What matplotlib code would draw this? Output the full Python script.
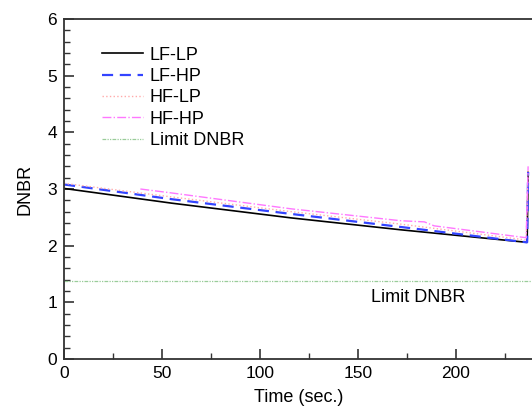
import matplotlib as mpl
mpl.use('Agg')
import matplotlib.pyplot as plt
from matplotlib.ticker import MultipleLocator

plt.rcParams['font.family'] = ['Liberation Sans', 'DejaVu Sans']

# values
t_lflp = [0, 55, 116, 172, 236, 236.5, 237]
v_lflp = [3.01, 2.75, 2.49, 2.28, 2.06, 2.06, 3.3]

t_lfhp = [0, 55, 116, 172, 236, 236.5, 237]
v_lfhp = [3.08, 2.82, 2.56, 2.33, 2.06, 2.06, 3.3]

t_hflp = [0, 55, 116, 172, 236, 237]
v_hflp = [3.10, 2.86, 2.60, 2.38, 2.10, 3.35]

t_hfhp = [39, 55, 116, 172, 184, 189, 236, 237]
v_hfhp = [3.00, 2.93, 2.65, 2.44, 2.42, 2.35, 2.14, 3.4]

t_limit = [0, 240]
v_limit = [1.38, 1.38]

fig = plt.figure(figsize=(5.32, 4.11), dpi=100)
ax = fig.add_axes([64/532, 52/411, 470/532, 340/411])

ax.plot(t_lflp, v_lflp, color='black', lw=1.2, label='LF-LP')
ax.plot(t_lfhp, v_lfhp, color='#3344ff', lw=1.6, ls=(0, (5, 3)), label='LF-HP')
ax.plot(t_hflp, v_hflp, color='#ffaaaa', lw=1.0, ls=':', label='HF-LP')
ax.plot(t_hfhp, v_hfhp, color='#ff77ff', lw=1.0, ls='-.', label='HF-HP')
ax.plot(t_limit, v_limit, color='#99cc99', lw=0.9, ls=(0, (3, 1, 1, 1, 1, 1)), label='Limit DNBR')

ax.text(157, 1.09, 'Limit DNBR', fontsize=13, va='center')

ax.set_xlim(0, 240)
ax.set_ylim(0, 6)
ax.xaxis.set_major_locator(MultipleLocator(50))
ax.xaxis.set_minor_locator(MultipleLocator(25))
ax.yaxis.set_major_locator(MultipleLocator(1))
ax.yaxis.set_minor_locator(MultipleLocator(0.2))
ax.tick_params(which='both', direction='in', labelsize=12.5, color='#333333')
ax.tick_params(which='major', length=7, width=1.2, pad=5)
ax.tick_params(which='minor', length=4, width=1.0)
ax.tick_params(top=False, right=False)
for s in ax.spines.values():
    s.set_color('#333333')
    s.set_linewidth(1.3)

ax.set_xlabel('Time (sec.)', fontsize=13, labelpad=6)
ax.set_ylabel('DNBR', fontsize=13, labelpad=10)

ax.legend(loc='upper left', bbox_to_anchor=(0.065, 0.94), frameon=False, fontsize=13,
          handlelength=2.3, handletextpad=0.35, labelspacing=0.24, borderaxespad=0)

fig.savefig('out.png', dpi=100)
